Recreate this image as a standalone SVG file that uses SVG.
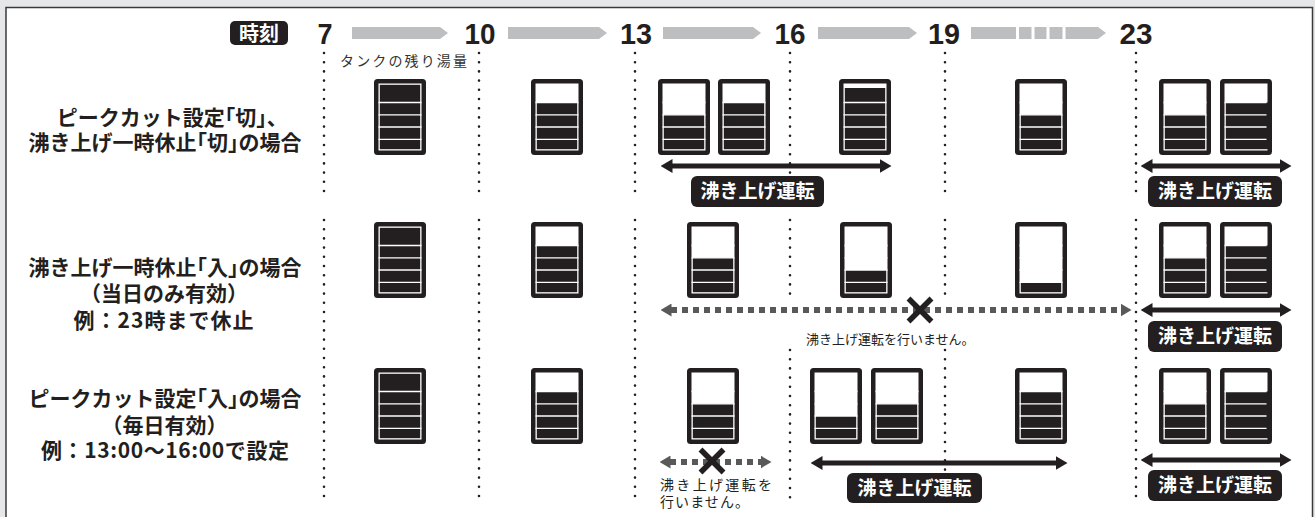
<svg xmlns="http://www.w3.org/2000/svg" xmlns:xlink="http://www.w3.org/1999/xlink" width="1315" height="517" viewBox="0 0 1315 517">
<style>
.jp{font-family:"Noto Sans CJK JP","Noto Sans",sans-serif}
.lbl{font-size:21px;font-weight:700;fill:#231f20;text-anchor:middle}
.half{font-feature-settings:"halt"}
.num{font-family:"Liberation Sans",Arial,sans-serif;font-size:29px;font-weight:700;fill:#231f20;text-anchor:middle}
.badge{fill:#231f20}
.btxt{font-size:19px;font-weight:700;fill:#fff;text-anchor:middle}
.note{fill:#231f20}
.dot{stroke:#231f20;stroke-width:2.6;stroke-linecap:round;stroke-dasharray:0 9.2;fill:none}
.lv{fill:#231f20}
.hdr{fill:#bcbec0}
.run{stroke:#231f20;stroke-width:5;fill:none;marker-start:url(#hb);marker-end:url(#hb)}
.norun{stroke:#58595b;stroke-width:6;stroke-dasharray:6 5;fill:none;marker-start:url(#hg);marker-end:url(#hg)}
.x{stroke:#231f20;stroke-width:5.5;fill:none}
</style>
<defs>
<marker id="hb" markerUnits="userSpaceOnUse" markerWidth="12" markerHeight="14" viewBox="0 0 12 14" refX="0.5" refY="7" orient="auto-start-reverse"><path d="M0,0 L12,7 L0,14 Z" fill="#231f20"/></marker>
<marker id="hg" markerUnits="userSpaceOnUse" markerWidth="11" markerHeight="13" viewBox="0 0 11 13" refX="0.5" refY="6.5" orient="auto-start-reverse"><path d="M0,0 L11,6.5 L0,13 Z" fill="#58595b"/></marker>
<g id="body"><rect width="52" height="76" rx="3.5" fill="#231f20"/><rect x="4.5" y="4.5" width="43" height="67" fill="#fff"/></g>
<g id="lines" stroke="#fff" stroke-width="1.3"><line x1="4.5" x2="47.5" y1="23.5" y2="23.5"/><line x1="4.5" x2="47.5" y1="35.8" y2="35.8"/><line x1="4.5" x2="47.5" y1="48" y2="48"/><line x1="4.5" x2="47.5" y1="60.3" y2="60.3"/></g>
<g id="linesR" stroke="#fff" stroke-width="1.3"><line x1="4.5" x2="46.5" y1="23.5" y2="23.5"/><line x1="4.5" x2="46.5" y1="35.8" y2="35.8"/><line x1="4.5" x2="46.5" y1="48" y2="48"/><line x1="4.5" x2="46.5" y1="60.3" y2="60.3"/></g>
<path id="xmark" d="M-11.5,-11.5 L11.5,11.5 M11.5,-11.5 L-11.5,11.5"/>
</defs>

<rect width="1315" height="517" fill="#e6e7e8"/>
<rect x="6" y="7.5" width="1306.5" height="520" fill="#fff" stroke="#3a3a3a" stroke-width="1.5"/>

<g id="time-axis">
<rect x="230" y="21" width="58" height="24" rx="5" class="badge"/>
<text x="259" y="41" class="jp btxt" style="font-size:20px">時刻</text>
<text x="325" y="44" class="num" textLength="15" lengthAdjust="spacingAndGlyphs">7</text>
<text x="480" y="44" class="num" textLength="31" lengthAdjust="spacingAndGlyphs">10</text>
<text x="636" y="44" class="num" textLength="32" lengthAdjust="spacingAndGlyphs">13</text>
<text x="790" y="44" class="num" textLength="31" lengthAdjust="spacingAndGlyphs">16</text>
<text x="944" y="44" class="num" textLength="32" lengthAdjust="spacingAndGlyphs">19</text>
<text x="1136" y="44" class="num" textLength="33" lengthAdjust="spacingAndGlyphs">23</text>
<polygon class="hdr" points="352,27 440,27 448,33 440,39 352,39"/>
<polygon class="hdr" points="508,27 599,27 607,33 599,39 508,39"/>
<polygon class="hdr" points="663,27 753,27 761,33 753,39 663,39"/>
<polygon class="hdr" points="818,27 909,27 917,33 909,39 818,39"/>
<polygon class="hdr" points="971,27 1098,27 1106,33 1098,39 971,39"/>
<g fill="#fff"><rect x="1016" y="26" width="3" height="14"/><rect x="1031.5" y="26" width="3" height="14"/><rect x="1046.5" y="26" width="3" height="14"/><rect x="1062.5" y="26" width="3" height="14"/></g>
</g>

<g id="gridlines">
<path class="dot" d="M324,53V198 M479,53V198 M635,53V198 M790,53V198 M945,53V198 M1136,53V198"/>
<path class="dot" d="M324,220V505 M479,220V505 M635,220V505 M1136,220V505 M790,220V300 M945,220V300 M790,350V505 M945,350V505"/>
</g>

<text id="tank-caption" x="340" y="66" class="jp" font-size="14" fill="#333" textLength="127">タンクの残り湯量</text>

<g id="label-row1" class="jp lbl">
<text x="167" y="125" class="half">ピークカット設定「切」、</text>
<text x="165" y="150" class="half">沸き上げ一時休止「切」の場合</text>
</g>
<g id="label-row2" class="jp lbl">
<text x="165" y="275" class="half">沸き上げ一時休止「入」の場合</text>
<text x="164" y="301">（当日のみ有効）</text>
<text x="163.5" y="328" textLength="180">例：23時まで休止</text>
</g>
<g id="label-row3" class="jp lbl">
<text x="165" y="406" class="half">ピークカット設定「入」の場合</text>
<text x="164.5" y="433">（毎日有効）</text>
<text x="165" y="458" textLength="248">例：13:00〜16:00で設定</text>
</g>

<!-- Row 1 tanks -->
<g id="r1-t07" transform="translate(374,79)"><use href="#body"/><rect class="lv" x="5.8" y="5.8" width="40.4" height="64.4"/><use href="#lines"/></g>
<g id="r1-t10" transform="translate(531,79)"><use href="#body"/><rect class="lv" x="5.8" y="23.5" width="40.4" height="46.7"/><use href="#lines"/></g>
<g id="r1-t13a" transform="translate(658,79)"><use href="#body"/><rect class="lv" x="5.8" y="35.8" width="40.4" height="34.4"/><use href="#lines"/></g>
<g id="r1-t13b" transform="translate(718,79)"><use href="#body"/><rect class="lv" x="5.8" y="23.5" width="40.4" height="46.7"/><use href="#lines"/></g>
<g id="r1-t16" transform="translate(839,79)"><use href="#body"/><rect class="lv" x="5.8" y="9" width="40.4" height="61.2"/><use href="#lines"/></g>
<g id="r1-t19" transform="translate(1015,79)"><use href="#body"/><rect class="lv" x="5.8" y="35.8" width="40.4" height="34.4"/><use href="#lines"/></g>
<g id="r1-t23a" transform="translate(1159,79)"><use href="#body"/><rect class="lv" x="5.8" y="35.8" width="40.4" height="34.4"/><use href="#lines"/></g>
<g id="r1-t23b" transform="translate(1220,79)"><use href="#body"/><rect class="lv" x="5.8" y="23.5" width="42.2" height="46.7"/><use href="#linesR"/></g>

<!-- Row 2 tanks -->
<g id="r2-t07" transform="translate(374,222)"><use href="#body"/><rect class="lv" x="5.8" y="5.8" width="40.4" height="64.4"/><use href="#lines"/></g>
<g id="r2-t10" transform="translate(531,222)"><use href="#body"/><rect class="lv" x="5.8" y="23.5" width="40.4" height="46.7"/><use href="#lines"/></g>
<g id="r2-t13" transform="translate(687,222)"><use href="#body"/><rect class="lv" x="5.8" y="35.8" width="40.4" height="34.4"/><use href="#lines"/></g>
<g id="r2-t16" transform="translate(840,222)"><use href="#body"/><rect class="lv" x="5.8" y="48" width="40.4" height="22.2"/><use href="#lines"/></g>
<g id="r2-t19" transform="translate(1015,222)"><use href="#body"/><rect class="lv" x="5.8" y="60.3" width="40.4" height="9.9"/><use href="#lines"/></g>
<g id="r2-t23a" transform="translate(1159,222)"><use href="#body"/><rect class="lv" x="5.8" y="35.8" width="40.4" height="34.4"/><use href="#lines"/></g>
<g id="r2-t23b" transform="translate(1220,222)"><use href="#body"/><rect class="lv" x="5.8" y="23.5" width="42.2" height="46.7"/><use href="#linesR"/></g>

<!-- Row 3 tanks -->
<g id="r3-t07" transform="translate(374,368)"><use href="#body"/><rect class="lv" x="5.8" y="5.8" width="40.4" height="64.4"/><use href="#lines"/></g>
<g id="r3-t10" transform="translate(531,368)"><use href="#body"/><rect class="lv" x="5.8" y="23.5" width="40.4" height="46.7"/><use href="#lines"/></g>
<g id="r3-t13" transform="translate(687,368)"><use href="#body"/><rect class="lv" x="5.8" y="35.8" width="40.4" height="34.4"/><use href="#lines"/></g>
<g id="r3-t16a" transform="translate(810,368)"><use href="#body"/><rect class="lv" x="5.8" y="48" width="40.4" height="22.2"/><use href="#lines"/></g>
<g id="r3-t16b" transform="translate(871,368)"><use href="#body"/><rect class="lv" x="5.8" y="35.8" width="40.4" height="34.4"/><use href="#lines"/></g>
<g id="r3-t19" transform="translate(1015,368)"><use href="#body"/><rect class="lv" x="5.8" y="23.5" width="40.4" height="46.7"/><use href="#lines"/></g>
<g id="r3-t23a" transform="translate(1159,368)"><use href="#body"/><rect class="lv" x="5.8" y="35.8" width="40.4" height="34.4"/><use href="#lines"/></g>
<g id="r3-t23b" transform="translate(1220,368)"><use href="#body"/><rect class="lv" x="5.8" y="23.5" width="42.2" height="46.7"/><use href="#linesR"/></g>

<g id="connectors">
<line class="run" x1="672" y1="166" x2="880" y2="166"/>
<line class="run" x1="1152" y1="166" x2="1280" y2="166"/>
<line class="norun" x1="671" y1="310" x2="1121" y2="310"/>
<line class="run" x1="1152" y1="310" x2="1280" y2="310"/>
<line class="norun" x1="670" y1="462" x2="761" y2="462"/>
<line class="run" x1="822" y1="463" x2="1056" y2="463"/>
<line class="run" x1="1152" y1="460" x2="1280" y2="460"/>
<use href="#xmark" class="x" transform="translate(920,310)"/>
<use href="#xmark" class="x" transform="translate(712,461)"/>
</g>

<g id="badge-r1a"><rect x="691" y="176" width="133" height="31" rx="6" class="badge"/><text x="757.5" y="198" class="jp btxt">沸き上げ運転</text></g>
<g id="badge-r1b"><rect x="1148" y="176" width="134" height="31" rx="6" class="badge"/><text x="1215" y="198" class="jp btxt">沸き上げ運転</text></g>
<g id="badge-r2b"><rect x="1148" y="321" width="134" height="31" rx="6" class="badge"/><text x="1215" y="343" class="jp btxt">沸き上げ運転</text></g>
<g id="badge-r3a"><rect x="847" y="473" width="135" height="30" rx="6" class="badge"/><text x="914.5" y="494.5" class="jp btxt">沸き上げ運転</text></g>
<g id="badge-r3b"><rect x="1148" y="470" width="134" height="31" rx="6" class="badge"/><text x="1215" y="492" class="jp btxt">沸き上げ運転</text></g>

<g id="note-r2"><text x="806" y="344" class="jp note" font-size="13">沸き上げ運転を行いません。</text></g>
<g id="note-r3"><text x="660" y="490" class="jp note" font-size="14" textLength="112">沸き上げ運転を</text><text x="660" y="507" class="jp note" font-size="14" textLength="89">行いません。</text></g>
</svg>
